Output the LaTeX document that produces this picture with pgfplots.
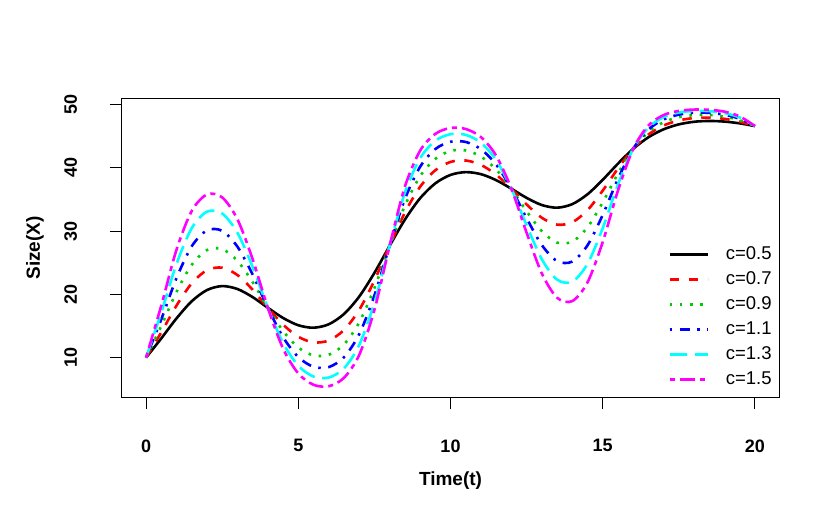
\documentclass[border=0pt]{standalone}
\usepackage{pgfplots}
\pgfplotsset{compat=1.18}
\usepackage{pgfplotstable}
\usepackage{fontspec}
\setmainfont{Liberation Sans}
\definecolor{rgreen}{RGB}{0,205,0}
\definecolor{rcyan}{RGB}{0,255,255}
\definecolor{rmagenta}{RGB}{255,0,255}
\definecolor{rred}{RGB}{255,0,0}
\definecolor{rblue}{RGB}{0,0,255}
\pgfplotstableread{
t c05 c07 c09 c11 c13 c15
0 10 10 10 10 10 10
0.5 13.03 13.99 15.00 16.04 17.12 18.23
1 16.19 18.22 20.36 22.56 24.80 27.05
1.5 18.90 21.73 24.66 27.59 30.45 33.17
2 20.67 23.81 26.99 30.11 33.06 35.79
2.5 21.30 24.21 27.15 30.03 32.77 35.32
3 20.84 23.05 25.30 27.54 29.74 31.87
3.5 19.56 20.73 21.92 23.13 24.34 25.56
4 17.87 17.87 17.87 17.87 17.87 17.87
4.5 16.26 15.21 14.20 13.23 12.30 11.42
5 15.11 13.29 11.60 10.08 8.71 7.49
5.5 14.72 12.40 10.34 8.54 7.00 5.70
6 15.26 12.70 10.44 8.49 6.84 5.47
6.5 16.88 14.35 12.07 10.05 8.29 6.79
7 19.63 17.53 15.54 13.68 11.96 10.40
7.5 23.38 22.17 20.98 19.80 18.65 17.52
8 27.66 27.66 27.66 27.66 27.66 27.66
8.5 31.79 32.90 33.98 35.03 36.03 36.99
9 35.17 36.98 38.64 40.14 41.49 42.69
9.5 37.53 39.60 41.41 42.95 44.26 45.35
10 38.87 40.92 42.66 44.11 45.31 46.29
10.5 39.31 41.15 42.74 44.08 45.20 46.13
11 38.99 40.45 41.77 42.93 43.96 44.85
11.5 38.04 38.91 39.73 40.50 41.23 41.91
12 36.69 36.69 36.69 36.69 36.69 36.69
12.5 35.24 34.20 33.13 32.03 30.89 29.73
13 34.11 32.09 29.98 27.78 25.54 23.29
13.5 33.69 31.01 28.17 25.25 22.32 19.46
14 34.25 31.39 28.33 25.17 22.00 18.92
14.5 35.81 33.30 30.59 27.74 24.81 21.88
15 38.10 36.39 34.54 32.55 30.45 28.27
15.5 40.65 39.89 39.08 38.23 37.33 36.38
16 42.99 42.99 42.99 42.99 42.99 42.99
16.5 44.82 45.25 45.66 46.03 46.37 46.68
17 46.08 46.68 47.20 47.64 48.01 48.33
17.5 46.86 47.48 47.99 48.40 48.73 48.99
18 47.27 47.86 48.32 48.69 48.98 49.20
18.5 47.40 47.92 48.34 48.68 48.95 49.17
19 47.30 47.73 48.09 48.39 48.65 48.87
19.5 47.02 47.28 47.52 47.74 47.94 48.12
20 46.59 46.59 46.59 46.59 46.59 46.59
}\datatable
\begin{document}
\begin{tikzpicture}
\useasboundingbox (0,0) rectangle (830bp,520bp);
\begin{axis}[
  at={(121.7bp,122.7bp)}, anchor=south west,
  scale only axis, width=657.6bp, height=298.8bp,
  xmin=-0.8, xmax=20.8, ymin=3.72, ymax=50.95,
  xtick={0,5,10,15,20}, ytick={10,20,30,40,50},
  tick pos=left, tick align=outside,
  major tick length=12bp,
  axis line style={line width=1bp},
  every tick/.style={black, line width=1bp},
  /pgf/number format/assume math mode=true,
  ticklabel style={font=\bfseries\fontsize{18bp}{18bp}\selectfont, inner sep=0pt},
  xticklabel style={anchor=north},
  xticklabel shift=30bp,
  yticklabel style={rotate=90, anchor=south},
  yticklabel shift=32.5bp,
  xlabel={\textbf{Time(t)}},
  ylabel={\textbf{Size(X)}},
  label style={font=\fontsize{19bp}{19bp}\selectfont},
  xlabel style={at={(axis description cs:0.5,-0.2801)}, anchor=center},
  ylabel style={at={(axis description cs:-0.1318,0.5)}, anchor=center, rotate=0},
  legend style={draw=none, fill=none, at={(rel axis cs:0.8308,0.5214)}, anchor=north west,
    inner sep=0pt, row sep=0pt, column sep=17bp,
    nodes={inner sep=0pt, minimum height=25bp},
    font=\fontsize{18.5bp}{18.5bp}\selectfont},
  legend cell align=left,
  legend image code/.code={\draw[#1] (0bp,0bp) -- (38bp,0bp);},
  every axis plot/.append style={line width=2.6bp, line cap=butt},
]
\addplot[black, smooth] table[x=t,y=c05]{\datatable};
\addplot[rred, smooth, dash pattern=on 9.5bp off 9.5bp] table[x=t,y=c07]{\datatable};
\addplot[rgreen, smooth, dash pattern=on 2.6bp off 7.7bp] table[x=t,y=c09]{\datatable};
\addplot[rblue, smooth, dash pattern=on 2.5bp off 7.5bp on 10bp off 7.5bp] table[x=t,y=c11]{\datatable};
\addplot[rcyan, smooth, dash pattern=on 17.5bp off 7.5bp] table[x=t,y=c13]{\datatable};
\addplot[rmagenta, smooth, dash pattern=on 5bp off 5bp on 15bp off 5bp] table[x=t,y=c15]{\datatable};
\legend{c=0.5,c=0.7,c=0.9,c=1.1,c=1.3,c=1.5}
\end{axis}
\end{tikzpicture}
\end{document}
